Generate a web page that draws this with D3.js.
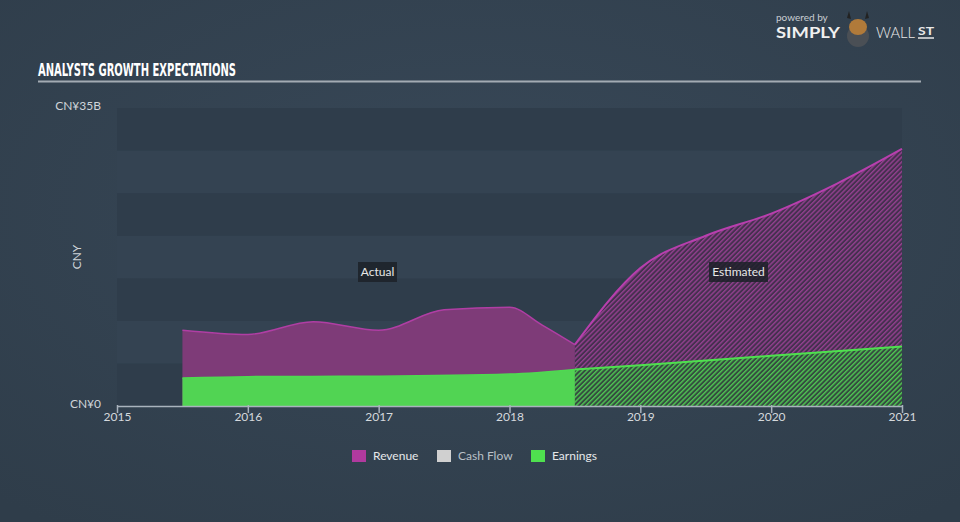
<!DOCTYPE html>
<html>
<head>
<meta charset="utf-8">
<script src="https://cdn.jsdelivr.net/npm/d3@7/dist/d3.min.js"></script>
<style>
  html, body { margin: 0; padding: 0; }
  body { width: 960px; height: 522px; overflow: hidden; background: #344352; }
  svg { display: block; font-family: Lato, "Open Sans", sans-serif; }
</style>
</head>
<body>
<div id="chart"></div>
<script>
// values (CNY billions, decimal years)
const yearTicks = [2015, 2016, 2017, 2018, 2019, 2020, 2021];
const yearLabels = ['2015', '2016', '2017', '2018', '2019', '2020', '2021'];
const revActualX = [2015.5, 2016, 2016.5, 2017, 2017.5, 2018, 2018.25, 2018.5];
const revActual = [8.9, 8.4, 9.9, 8.9, 11.3, 11.6, 9.5, 7.2];
const revEstX = [2018.5, 2019, 2019.5, 2020, 2020.5, 2021];
const revEst = [7.2, 16.2, 20.0, 22.6, 26.1, 30.2];
const earnActualX = [2015.5, 2016, 2017, 2018, 2018.5];
const earnActual = [3.3, 3.45, 3.5, 3.75, 4.3];
const earnEstX = [2018.5, 2019, 2020, 2021];
const earnEst = [4.3, 4.8, 5.9, 7.0];
const yLabels = ['CN¥0', 'CN¥35B'];
const legendNames = ['Revenue', 'Cash Flow', 'Earnings'];

const W = 960, H = 522;
const svg = d3.select('#chart').append('svg').attr('width', W).attr('height', H);

const defs = svg.append('defs');
const bg = defs.append('radialGradient').attr('id', 'bg').attr('cx', '50%').attr('cy', '40%').attr('r', '75%');
bg.append('stop').attr('offset', '0%').attr('stop-color', '#384858');
bg.append('stop').attr('offset', '100%').attr('stop-color', '#2f3d4a');
svg.append('rect').attr('width', W).attr('height', H).attr('fill', 'url(#bg)');

function hatch(id, base, stripe) {
  const p = defs.append('pattern').attr('id', id).attr('patternUnits', 'userSpaceOnUse')
    .attr('width', 3.4).attr('height', 3.4).attr('patternTransform', 'rotate(45)');
  p.append('rect').attr('width', 3.4).attr('height', 3.4).attr('fill', base);
  p.append('rect').attr('width', 1.4).attr('height', 3.4).attr('fill', stripe);
}
hatch('hRev', '#45304f', '#93408f');
hatch('hEarn', '#354b40', '#4fc652');

const x = d3.scaleLinear().domain([2015, 2021]).range([117, 902]);
const y = d3.scaleLinear().domain([0, 35]).range([406, 108]);

// bands
const bandStarts = d3.range(0, 35, 5);
svg.append('g').selectAll('rect').data(bandStarts).join('rect')
  .attr('x', x(2015)).attr('width', x(2021) - x(2015))
  .attr('y', d => y(d + 5)).attr('height', d => y(d) - y(d + 5))
  .attr('fill', (d, i) => i % 2 === 0 ? '#2f3d4b' : '#344352');

const curve = d3.curveMonotoneX;
const area = (xs) => d3.area().curve(curve).x((d, i) => x(xs[i])).y0(y(0)).y1(d => y(d));
const line = (xs) => d3.line().curve(curve).x((d, i) => x(xs[i])).y(d => y(d));

const plot = svg.append('g');
plot.append('path').datum(revActual).attr('d', area(revActualX)).attr('fill', '#7e3b78');
plot.append('path').datum(revEst).attr('d', area(revEstX)).attr('fill', 'url(#hRev)');
plot.append('path').datum(revActual).attr('d', line(revActualX)).attr('fill', 'none').attr('stroke', '#b03ea4').attr('stroke-width', 1.5);
plot.append('path').datum(revEst).attr('d', line(revEstX)).attr('fill', 'none').attr('stroke', '#b83fae').attr('stroke-width', 2);

plot.append('path').datum(earnActual).attr('d', area(earnActualX)).attr('fill', '#51d453');
plot.append('path').datum(earnEst).attr('d', area(earnEstX)).attr('fill', 'url(#hEarn)');
plot.append('path').datum(earnActual).attr('d', line(earnActualX)).attr('fill', 'none').attr('stroke', '#4fd951').attr('stroke-width', 1.5);
plot.append('path').datum(earnEst).attr('d', line(earnEstX)).attr('fill', 'none').attr('stroke', '#4fe04f').attr('stroke-width', 2);

// x axis
const ax = svg.append('g').attr('transform', `translate(0,${y(0)})`)
  .call(d3.axisBottom(x).tickValues(yearTicks).tickFormat((d, i) => yearLabels[i]).tickSize(7).tickSizeOuter(0));
ax.select('.domain').attr('stroke', '#a9b3bd').attr('stroke-width', 1.5);
ax.selectAll('.tick line').attr('stroke', '#a9b3bd').attr('stroke-width', 1.5).attr('y1', -1).attr('y2', 7);
ax.selectAll('.tick text').attr('fill', '#d5d9dd').attr('font-size', 12).attr('dy', '0.45em')
  .attr('font-family', 'Lato, sans-serif');

// y labels
svg.append('g').selectAll('text').data([0, 35]).join('text')
  .attr('x', 101).attr('y', d => y(d) + 2).attr('text-anchor', 'end').attr('fill', '#cfd4d9')
  .attr('font-size', 12).text((d, i) => yLabels[i]);
svg.append('text').attr('transform', `translate(81,${(y(0) + y(35)) / 2}) rotate(-90)`)
  .attr('text-anchor', 'middle').attr('fill', '#cfd4d9').attr('font-size', 12).text('CNY');

// period labels
function tag(cx, label, w) {
  const g = svg.append('g').attr('transform', `translate(${cx},272)`);
  g.append('rect').attr('x', -w / 2).attr('y', -10).attr('width', w).attr('height', 20).attr('fill', '#1c2128').attr('opacity', 0.85);
  g.append('text').attr('text-anchor', 'middle').attr('dy', '0.35em').attr('fill', '#e8e8e8').attr('font-size', 12).text(label);
}
tag(377.5, 'Actual', 39);
tag(738.5, 'Estimated', 59);

// title
svg.append('text').attr('x', 38).attr('y', 76).attr('fill', '#ffffff')
  .attr('font-family', '"DejaVu Sans Condensed", "DejaVu Sans", sans-serif').attr('font-weight', 'bold')
  .attr('font-size', 17).attr('textLength', 198).attr('lengthAdjust', 'spacingAndGlyphs')
  .text('ANALYSTS GROWTH EXPECTATIONS');
svg.append('line').attr('x1', 38).attr('x2', 921).attr('y1', 81.5).attr('y2', 81.5)
  .attr('stroke', '#a3abb3').attr('stroke-width', 2);

// legend
const legendColors = ['#b03a9e', '#d0d0d0', '#4fe04f'];
const legendX = [352, 437, 531];
const lg = svg.append('g').selectAll('g').data(legendNames).join('g')
  .attr('transform', (d, i) => `translate(${legendX[i]},450)`);
lg.append('rect').attr('width', 14).attr('height', 12).attr('fill', (d, i) => legendColors[i]);
lg.append('text').attr('x', 21).attr('y', 6).attr('dy', '0.35em').attr('font-size', 12)
  .attr('fill', (d, i) => i === 1 ? '#b9c0c7' : '#e6e8ea').text(d => d);

// logo
const logo = svg.append('g');
logo.append('text').attr('x', 776).attr('y', 21).attr('fill', '#c9ced3').attr('font-size', 10).text('powered by');
logo.append('text').attr('x', 776).attr('y', 38).attr('fill', '#f0f0f0').attr('font-size', 16)
  .attr('font-weight', 'bold').attr('textLength', 64).attr('lengthAdjust', 'spacingAndGlyphs').text('SIMPLY');
logo.append('circle').attr('cx', 858).attr('cy', 36).attr('r', 11).attr('fill', '#4a4f55');
logo.append('ellipse').attr('cx', 858).attr('cy', 27).attr('rx', 9).attr('ry', 8).attr('fill', '#b07a3a');
logo.append('path').attr('d', 'M847,18 L849,11 L851,19 Z M869,18 L867,11 L865,19 Z').attr('fill', '#222');
logo.append('text').attr('x', 876).attr('y', 38).attr('fill', '#e8e8e8').attr('font-size', 16)
  .attr('font-weight', 300).attr('textLength', 39).attr('lengthAdjust', 'spacingAndGlyphs').text('WALL');
logo.append('text').attr('x', 918).attr('y', 35).attr('fill', '#e8e8e8').attr('font-size', 12)
  .attr('font-weight', 'bold').attr('textLength', 16).attr('lengthAdjust', 'spacingAndGlyphs').text('ST');
logo.append('line').attr('x1', 918).attr('x2', 934).attr('y1', 38).attr('y2', 38).attr('stroke', '#e8e8e8').attr('stroke-width', 1.5);
</script>
</body>
</html>
